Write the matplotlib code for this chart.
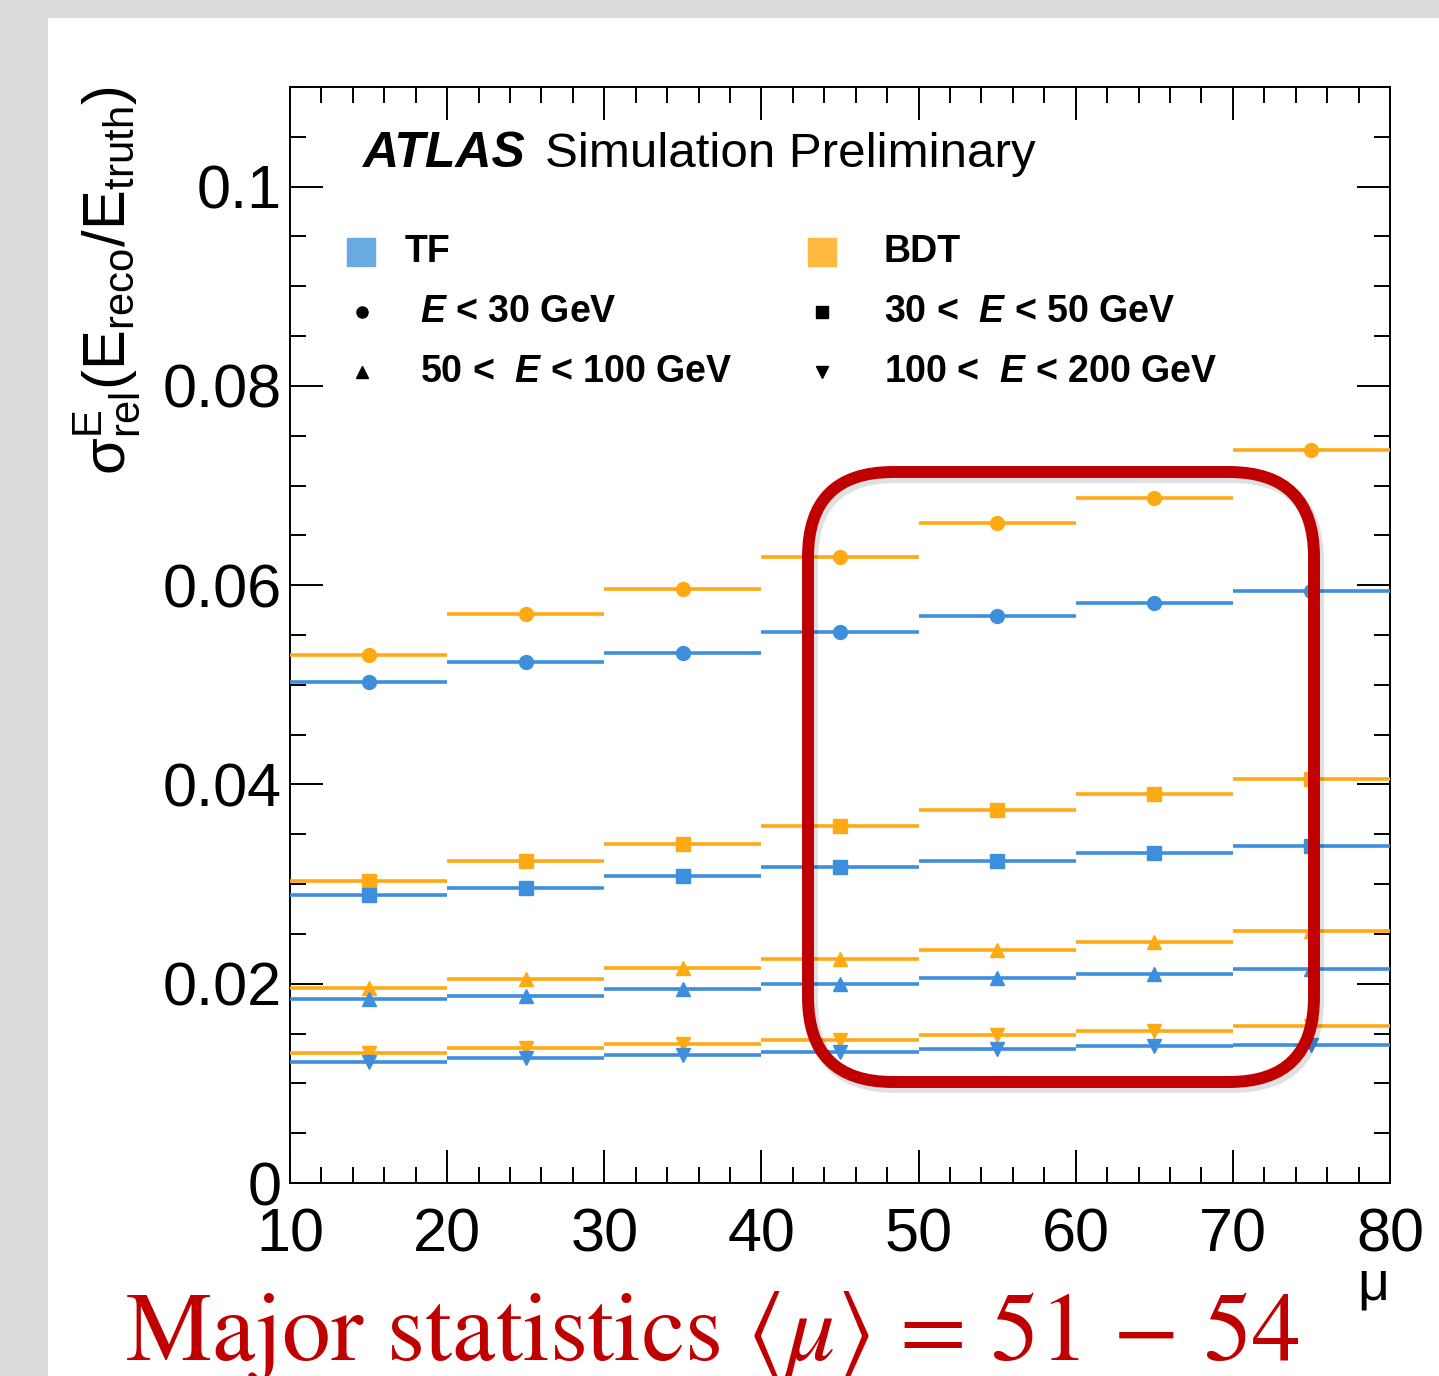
import matplotlib
matplotlib.use("Agg")
import matplotlib.pyplot as plt
from matplotlib.patches import Rectangle, FancyBboxPatch
from matplotlib.transforms import IdentityTransform
from matplotlib.ticker import MultipleLocator

plt.rcParams['font.family'] = ['Liberation Sans', 'DejaVu Sans']
plt.rcParams['mathtext.fontset'] = 'custom'
plt.rcParams['mathtext.rm'] = 'Liberation Sans'
plt.rcParams['mathtext.it'] = 'Liberation Sans:italic:bold'
plt.rcParams['mathtext.bf'] = 'Liberation Sans:bold'
plt.rcParams['mathtext.sf'] = 'Liberation Sans'

# pile-up bins (centres) and half width
mu = [15, 25, 35, 45, 55, 65, 75]
half_width = 5

# relative energy resolution, TF vs BDT, per energy range
tf_lt30 = [0.0503, 0.0523, 0.0532, 0.0553, 0.0569, 0.0582, 0.0594]
bdt_lt30 = [0.0530, 0.0571, 0.0596, 0.0628, 0.0662, 0.0687, 0.0736]
tf_30_50 = [0.0289, 0.0296, 0.0308, 0.0317, 0.0323, 0.0331, 0.0338]
bdt_30_50 = [0.0303, 0.0323, 0.0340, 0.0358, 0.0374, 0.0390, 0.0405]
tf_50_100 = [0.0185, 0.0188, 0.0195, 0.0200, 0.0206, 0.0210, 0.0215]
bdt_50_100 = [0.0196, 0.0205, 0.0216, 0.0225, 0.0234, 0.0242, 0.0253]
tf_100_200 = [0.0121, 0.0125, 0.0128, 0.0131, 0.0134, 0.0137, 0.0139]
bdt_100_200 = [0.0130, 0.0135, 0.0140, 0.0144, 0.0149, 0.0153, 0.0158]

range_labels = [r'$\mathit{E}$ < 30 GeV', r'30 <  $\mathit{E}$ < 50 GeV',
                r'50 <  $\mathit{E}$ < 100 GeV', r'100 <  $\mathit{E}$ < 200 GeV']
markers = ['o', 's', '^', 'v']

blue = '#3d8fdd'
orange = '#ffa914'

W, H = 1439, 1376
fig = plt.figure(figsize=(W / 100, H / 100), dpi=100, facecolor='#dcdcdc')
fig.add_artist(Rectangle((48 / W, 0), 1, 1 - 18 / H, transform=fig.transFigure,
                         facecolor='white', edgecolor='none', zorder=-10))

ax = fig.add_axes([290 / W, 1 - 1183 / H, 1100 / W, 1096 / H])

bdt = [bdt_lt30, bdt_30_50, bdt_50_100, bdt_100_200]
tf = [tf_lt30, tf_30_50, tf_50_100, tf_100_200]
for vals, m in zip(bdt, markers):
    ax.errorbar(mu, vals, xerr=half_width, fmt=m, color=orange, ms=10,
                elinewidth=2.6, capsize=0, zorder=3)
for vals, m in zip(tf, markers):
    ax.errorbar(mu, vals, xerr=half_width, fmt=m, color=blue, ms=10,
                elinewidth=2.6, capsize=0, zorder=4)

ax.set_xlim(10, 80)
ax.set_ylim(0, 0.11)
ax.xaxis.set_major_locator(MultipleLocator(10))
ax.xaxis.set_minor_locator(MultipleLocator(2))
ax.yaxis.set_major_locator(MultipleLocator(0.02))
ax.yaxis.set_minor_locator(MultipleLocator(0.005))
ax.set_yticks([0, 0.02, 0.04, 0.06, 0.08, 0.1])
ax.set_yticklabels(['0', '0.02', '0.04', '0.06', '0.08', '0.1'])
ax.tick_params(which='both', direction='in', top=True, right=True, width=1.4)
ax.tick_params(which='major', length=24, labelsize=44)
ax.tick_params(which='minor', length=11.5)
ax.tick_params(axis='x', which='major', pad=18)
ax.tick_params(axis='y', which='major', pad=6)
for s in ax.spines.values():
    s.set_linewidth(1.4)

ax.set_xlabel('μ', fontsize=40)
ax.xaxis.set_label_coords((1373 - 290) / 1100, -(1260 - 1183) / 1096)

fig.text(108 / W, 1 - 86 / H, r'$\mathrm{\sigma^{E}_{rel}(E_{reco}/E_{truth})}$',
         rotation=90, ha='center', va='top', fontsize=43)

# ATLAS label
ax.text((362 - 290) / 1100, (1183 - 167) / 1096, 'ATLAS', transform=ax.transAxes,
        fontsize=36, fontweight='bold', style='italic', va='baseline')
ax.text((545 - 290) / 1100, (1183 - 167) / 1096, 'Simulation Preliminary',
        transform=ax.transAxes, fontsize=35.5, va='baseline')

# legend drawn by hand
def fx(px):
    return (px - 290) / 1100

def fy(py):
    return (1183 - py) / 1096

ax.plot([fx(361)], [fy(252)], 's', ms=20, color='#6aaae2', transform=ax.transAxes, clip_on=False)
ax.text(fx(405), fy(252), 'TF', transform=ax.transAxes, fontsize=27, fontweight='bold', va='center')
ax.plot([fx(822)], [fy(252)], 's', ms=20, color='#fdb940', transform=ax.transAxes, clip_on=False)
ax.text(fx(884), fy(252), 'BDT', transform=ax.transAxes, fontsize=27, fontweight='bold', va='center')
pos = [(362, 312, 420), (822, 312, 884), (362, 372, 420), (822, 372, 884)]
for (mx, my, tx), m, lab in zip(pos, markers, range_labels):
    ax.plot([fx(mx)], [fy(my)], m, ms=8, color='black', transform=ax.transAxes, clip_on=False)
    ax.text(fx(tx), fy(my), lab, transform=ax.transAxes, fontsize=27,
            fontweight='bold', va='center')

# highlight box with a soft shadow
shadow = FancyBboxPatch((811, H - 1086), 506, 610,
                        boxstyle='round,pad=0,rounding_size=85',
                        transform=IdentityTransform(), facecolor='none',
                        edgecolor='black', alpha=0.12, linewidth=10, zorder=19)
fig.add_artist(shadow)
box = FancyBboxPatch((808, H - 1082), 506, 610,
                     boxstyle='round,pad=0,rounding_size=85',
                     transform=IdentityTransform(), facecolor='none',
                     edgecolor='#c00000', linewidth=8.6, zorder=20)
fig.add_artist(box)

fig.text(125 / W, 1 - 1360 / H, r'Major statistics $\langle \mu \rangle$ = 51 − 54',
         color='#c00000', fontsize=70, family='STIXGeneral', math_fontfamily='stix',
         va='baseline')

fig.savefig('out.png', dpi=100, facecolor=fig.get_facecolor())
